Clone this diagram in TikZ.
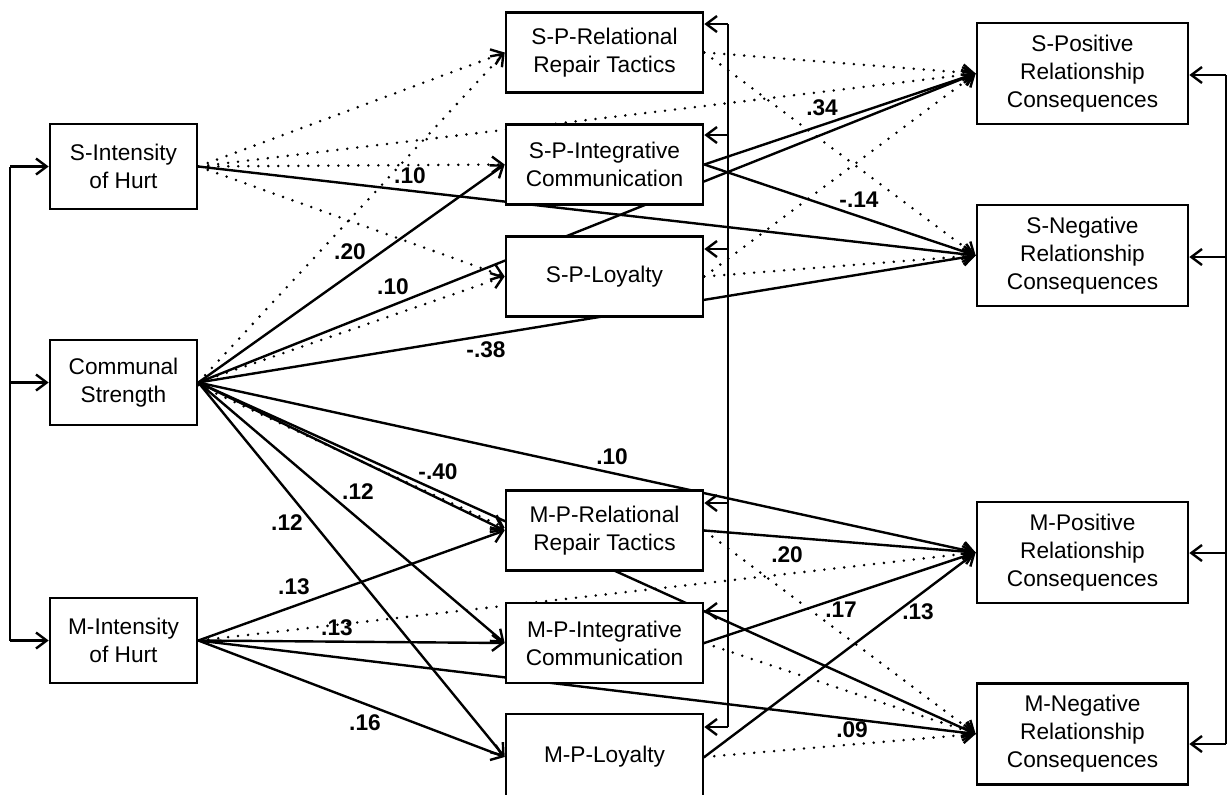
\documentclass[tikz,border=0pt]{standalone}
\usepackage{fontspec}
\setmainfont{Liberation Sans}
\usetikzlibrary{arrows.meta}
\pgfdeclarelayer{bg}
\pgfsetlayers{bg,main}
\begin{document}
\begin{tikzpicture}[x=0.75pt,y=-0.75pt,
 box/.style={draw,line width=2pt,fill=white,align=center,inner sep=0pt,font=\fontsize{17}{21}\selectfont},
 lbox/.style={box,minimum width=110.25pt,minimum height=63.75pt},
 mbox/.style={box,minimum width=147.75pt,minimum height=60pt},
 rbox/.style={box,minimum width=158.25pt,minimum height=75.75pt},
 solidln/.style={line width=1.8pt},
 dotln/.style={line width=2.1pt,dash pattern=on 0pt off 7.5pt,line cap=round},
 arr/.style={-{Straight Barb[length=8pt,width=12pt,line width=1.8pt]}},
 coef/.style={font=\fontsize{17}{20}\selectfont\bfseries,inner sep=0pt}]
\useasboundingbox (0,0) rectangle (1229,794);

% boxes
\node[lbox] (sih) at (123.5,166.5) {S-Intensity\\of Hurt};
\node[lbox] (cs) at (123.5,382.5) {Communal\\Strength};
\node[lbox] (mih) at (123.5,640.5) {M-Intensity\\of Hurt};
\node[mbox] (sprr) at (604.5,52.5) {S-P-Relational\\Repair Tactics};
\node[mbox] (spic) at (604.5,164.5) {S-P-Integrative\\Communication};
\node[mbox] (spl) at (604.5,276.5) {S-P-Loyalty};
\node[mbox] (mprr) at (604.5,530.5) {M-P-Relational\\Repair Tactics};
\node[mbox] (mpic) at (604.5,643) {M-P-Integrative\\Communication};
\node[mbox,minimum height=64.5pt] (mpl) at (604.5,757) {M-P-Loyalty};
\node[rbox] (spos) at (1082.5,73.5) {S-Positive\\Relationship\\Consequences};
\node[rbox] (sneg) at (1082.5,255.5) {S-Negative\\Relationship\\Consequences};
\node[rbox] (mpos) at (1082.5,552.5) {M-Positive\\Relationship\\Consequences};
\node[rbox] (mneg) at (1082.5,734) {M-Negative\\Relationship\\Consequences};

\begin{pgfonlayer}{bg}
% from S-Intensity
\draw[dotln,arr] (sih.east) -- (sprr.west);
\draw[dotln,arr] (sih.east) -- (spos.west);
\draw[dotln,arr] (sih.east) -- (spic.west);
\draw[dotln,arr] (sih.east) -- (spl.west);
\draw[solidln,arr] (sih.east) -- (sneg.west);
% from Communal Strength
\draw[dotln,arr] (cs.east) -- (sprr.west);
\draw[solidln,arr] (cs.east) -- (spic.west);
\draw[solidln,arr] (cs.east) -- (spos.west);
\draw[dotln,arr] (cs.east) -- (spl.west);
\draw[solidln,arr] (cs.east) -- (sneg.west);
\draw[solidln,arr] (cs.east) -- (mpos.west);
\draw[solidln,arr] (cs.east) -- (mprr.west);
\draw[dotln,arr] ([yshift=-2pt]cs.east) -- ([yshift=2pt]mprr.west);
\draw[solidln,arr] (cs.east) -- (mneg.west);
\draw[solidln,arr] (cs.east) -- (mpic.west);
\draw[solidln,arr] (cs.east) -- (mpl.west);
% from M-Intensity
\draw[solidln,arr] (mih.east) -- (mprr.west);
\draw[dotln,arr] (mih.east) -- (mpos.west);
\draw[solidln,arr] (mih.east) -- (mpic.west);
\draw[solidln,arr] (mih.east) -- (mneg.west);
\draw[solidln,arr] (mih.east) -- (mpl.west);
% from S-P mediators
\draw[dotln,arr] (sprr.east) -- (spos.west);
\draw[dotln,arr] (sprr.east) -- (sneg.west);
\draw[solidln,arr] (spic.east) -- (spos.west);
\draw[solidln,arr] (spic.east) -- (sneg.west);
\draw[dotln,arr] (spl.east) -- (spos.west);
\draw[dotln,arr] (spl.east) -- (sneg.west);
% from M-P mediators
\draw[solidln,arr] (mprr.east) -- (mpos.west);
\draw[dotln,arr] (mprr.east) -- (mneg.west);
\draw[solidln,arr] (mpic.east) -- (mpos.west);
\draw[dotln,arr] (mpic.east) -- (mneg.west);
\draw[solidln,arr] (mpl.east) -- (mpos.west);
\draw[dotln,arr] (mpl.east) -- (mneg.west);
\end{pgfonlayer}

% correlation brackets
\coordinate (L1) at (10,166.5);
\coordinate (L2) at (10,382.5);
\coordinate (L3) at (10,640.5);
\draw[solidln] (L1) -- (L3);
\draw[solidln,arr] (L1) -- (sih.west);
\draw[solidln,arr] (L2) -- (cs.west);
\draw[solidln,arr] (L3) -- (mih.west);

\coordinate (M1) at (728,24);
\coordinate (M2) at (728,135);
\coordinate (M3) at (728,249);
\coordinate (M4) at (728,503);
\coordinate (M5) at (728,611);
\coordinate (M6) at (728,727);
\draw[solidln] (M1) -- (M6);
\draw[solidln,arr] (M1) -- (M1 -| sprr.east);
\draw[solidln,arr] (M2) -- (M2 -| spic.east);
\draw[solidln,arr] (M3) -- (M3 -| spl.east);
\draw[solidln,arr] (M4) -- (M4 -| mprr.east);
\draw[solidln,arr] (M5) -- (M5 -| mpic.east);
\draw[solidln,arr] (M6) -- (M6 -| mpl.east);

\coordinate (R1) at (1226,75);
\coordinate (R2) at (1226,257);
\coordinate (R3) at (1226,553);
\coordinate (R4) at (1226,744);
\draw[solidln] (R1) -- (R4);
\draw[solidln,arr] (R1) -- (R1 -| spos.east);
\draw[solidln,arr] (R2) -- (R2 -| sneg.east);
\draw[solidln,arr] (R3) -- (R3 -| mpos.east);
\draw[solidln,arr] (R4) -- (R4 -| mneg.east);

% coefficients
\node[coef] (c1) at (410,176) {.10};
\node[coef] (c2) at (350,252) {.20};
\node[coef] (c3) at (393,287) {.10};
\node[coef] (c4) at (486,350) {-.38};
\node[coef] (c5) at (822,108) {.34};
\node[coef] (c6) at (859,200) {-.14};
\node[coef] (c7) at (612,457) {.10};
\node[coef] (c8) at (438,472) {-.40};
\node[coef] (c9) at (358,492) {.12};
\node[coef] (c10) at (287,523) {.12};
\node[coef] (c11) at (294,587) {.13};
\node[coef] (c12) at (337,628) {.13};
\node[coef] (c13) at (365,723) {.16};
\node[coef] (c14) at (787,555) {.20};
\node[coef] (c15) at (841,610) {.17};
\node[coef] (c16) at (918,612) {.13};
\node[coef] (c17) at (852,730) {.09};
\end{tikzpicture}
\end{document}
